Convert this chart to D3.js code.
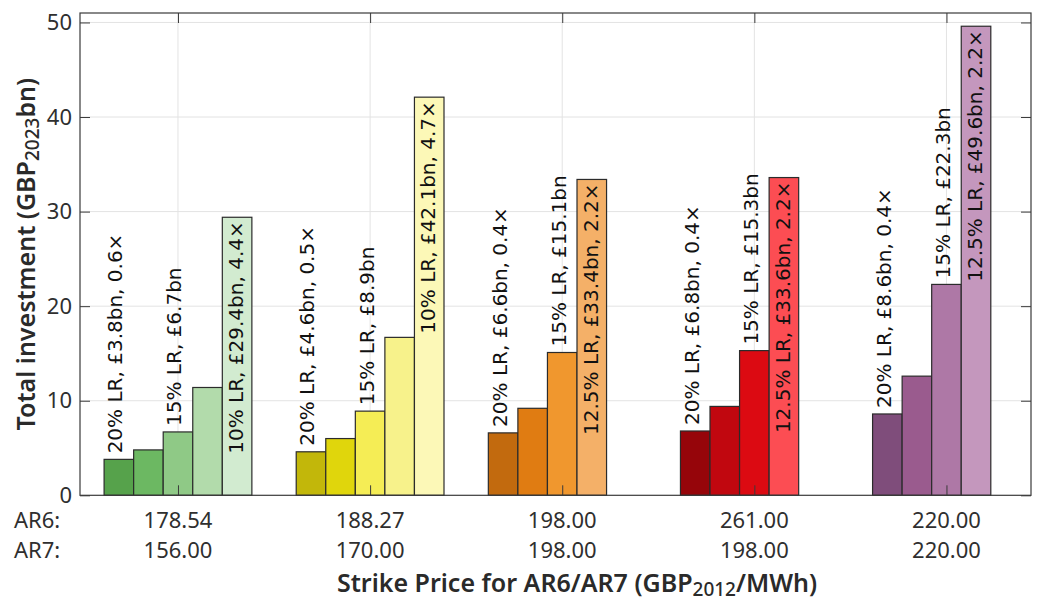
<!DOCTYPE html>
<html>
<head>
<meta charset="utf-8">
<script src="https://cdn.jsdelivr.net/npm/d3@7"></script>
<style>
  html, body { margin: 0; padding: 0; background: #fff; }
  svg { display: block; }
</style>
</head>
<body>
<svg id="chart" width="1038" height="603"></svg>
<script>
// Strike price per group (AR6 row, AR7 row)
const ar6Prices = ["178.54", "188.27", "198.00", "261.00", "220.00"];
const ar7Prices = ["156.00", "170.00", "198.00", "198.00", "220.00"];

// Total investment (GBP2023 bn) per load-reduction level, one array per group
const greenValues  = [3.8, 4.8, 6.7, 11.4, 29.4];
const yellowValues = [4.6, 6.0, 8.9, 16.7, 42.1];
const orangeValues = [6.6, 9.2, 15.1, 33.4];
const redValues    = [6.8, 9.4, 15.3, 33.6];
const purpleValues = [8.6, 12.6, 22.3, 49.6];

// Bar fill colours per group
const greenColors  = ["#56a24b", "#6cb862", "#8fc986", "#b2dbab", "#d2ebd0"];
const yellowColors = ["#c2b70a", "#e0d60c", "#f5ed55", "#f7f28b", "#fcf8b7"];
const orangeColors = ["#c26a0e", "#e07c12", "#f0972e", "#f4b068"];
const redColors    = ["#96050a", "#c1070f", "#dc0a12", "#fc4d53"];
const purpleColors = ["#7f4d7b", "#9a5b8e", "#ae78a6", "#c497bd"];

// Annotation data
const firstLR  = ["20%", "20%", "20%", "20%", "20%"];
const firstMult = [0.6, 0.5, 0.4, 0.4, 0.4];
const midLR    = ["15%", "15%", "15%", "15%", "15%"];
const lastLR   = ["10%", "10%", "12.5%", "12.5%", "12.5%"];
const lastMult = [4.4, 4.7, 2.2, 2.2, 2.2];

const yTicks = [0, 10, 20, 30, 40, 50];

const groupValues = [greenValues, yellowValues, orangeValues, redValues, purpleValues];
const groupColors = [greenColors, yellowColors, orangeColors, redColors, purpleColors];
const slots = 5;

const svg = d3.select("#chart");
const frame = { left: 80, right: 1031, top: 13, bottom: 495.3 };

const x = d3.scaleLinear().domain([0.49, 5.44]).range([frame.left, frame.right]);
const y = d3.scaleLinear().domain([0, 51]).range([frame.bottom, frame.top]);

const groupWidth = slots / (slots + 1.5);
const slotW = groupWidth / slots;

const bars = [];
groupValues.forEach((vals, g) => {
  vals.forEach((v, i) => {
    const x0 = (g + 1) - groupWidth / 2 + i * slotW;
    bars.push({ g, i, v, x0, x1: x0 + slotW, color: groupColors[g][i] });
  });
});

const fmt = d3.format(".1f");

// Grid
const grid = svg.append("g");
grid.selectAll("line.h").data(yTicks.filter(t => t > 0)).join("line")
  .attr("x1", frame.left).attr("x2", frame.right)
  .attr("y1", d => y(d)).attr("y2", d => y(d))
  .attr("stroke", "#e3e3e3").attr("stroke-width", 1);
grid.selectAll("line.v").data(d3.range(1, 6)).join("line")
  .attr("x1", d => x(d)).attr("x2", d => x(d))
  .attr("y1", frame.top).attr("y2", frame.bottom)
  .attr("stroke", "#e3e3e3").attr("stroke-width", 1);

// Bars
svg.append("g").selectAll("rect").data(bars).join("rect")
  .attr("x", d => x(d.x0))
  .attr("width", d => x(d.x1) - x(d.x0))
  .attr("y", d => y(d.v))
  .attr("height", d => y(0) - y(d.v))
  .attr("fill", d => d.color)
  .attr("stroke", "#2b2b2b")
  .attr("stroke-width", 1.2);

// Bar annotations
const labels = [];
groupValues.forEach((vals, g) => {
  const b0 = bars.find(b => b.g === g && b.i === 0);
  const b2 = bars.find(b => b.g === g && b.i === 2);
  const bl = bars.find(b => b.g === g && b.i === vals.length - 1);
  labels.push({ b: b0, inside: false,
    text: `${firstLR[g]} LR, £${fmt(b0.v)}bn, ${firstMult[g]}×` });
  labels.push({ b: b2, inside: false,
    text: `${midLR[g]} LR, £${fmt(b2.v)}bn` });
  labels.push({ b: bl, inside: true,
    text: `${lastLR[g]} LR, £${fmt(bl.v)}bn, ${lastMult[g]}×` });
});

svg.append("g").selectAll("text").data(labels).join("text")
  .attr("transform", d => {
    const cx = (x(d.b.x0) + x(d.b.x1)) / 2 + (d.inside ? -1 : -3.5);
    const cy = d.inside ? y(d.b.v) + 4 : y(d.b.v) - 6;
    return `translate(${cx},${cy}) rotate(-90)`;
  })
  .attr("dy", "0.35em")
  .attr("text-anchor", d => d.inside ? "end" : "start")
  .attr("font-family", "'DejaVu Sans', sans-serif")
  .attr("font-size", 20)
  .attr("fill", "#111")
  .text(d => d.text);

// Axes (drawn over the bars)
const axisColor = "#3a3a3a";
const styleAxis = g => {
  g.select(".domain").remove();
  g.selectAll(".tick line").attr("stroke", axisColor).attr("stroke-width", 1);
  g.selectAll(".tick text")
    .attr("font-family", "'Noto Sans', sans-serif")
    .attr("font-size", 22)
    .attr("fill", "#2f2f2f");
};

svg.append("g").attr("transform", `translate(${frame.left},0)`)
  .call(d3.axisLeft(y).tickValues(yTicks).tickSize(-10).tickPadding(8))
  .call(styleAxis);
svg.append("g").attr("transform", `translate(${frame.right},0)`)
  .call(d3.axisRight(y).tickValues(yTicks).tickSize(-10).tickFormat(""))
  .call(styleAxis);
svg.append("g").attr("transform", `translate(0,${frame.bottom})`)
  .call(d3.axisBottom(x).tickValues(d3.range(1, 6)).tickSize(-10).tickFormat(""))
  .call(styleAxis);
svg.append("g").attr("transform", `translate(0,${frame.top})`)
  .call(d3.axisTop(x).tickValues(d3.range(1, 6)).tickSize(-10).tickFormat(""))
  .call(styleAxis);

// Box
svg.append("rect")
  .attr("x", frame.left).attr("y", frame.top)
  .attr("width", frame.right - frame.left).attr("height", frame.bottom - frame.top)
  .attr("fill", "none").attr("stroke", axisColor).attr("stroke-width", 1.2);

// Two-row strike price labels
const rows = [
  { name: "AR6:", vals: ar6Prices, yPos: 528 },
  { name: "AR7:", vals: ar7Prices, yPos: 558 }
];
const tickFont = { family: "'Noto Sans', sans-serif", size: 22, color: "#2f2f2f" };
rows.forEach(r => {
  svg.append("text")
    .attr("x", 14).attr("y", r.yPos)
    .attr("font-family", tickFont.family).attr("font-size", tickFont.size)
    .attr("fill", tickFont.color)
    .text(r.name);
  svg.append("g").selectAll("text").data(r.vals).join("text")
    .attr("x", (d, i) => x(i + 1))
    .attr("y", r.yPos)
    .attr("text-anchor", "middle")
    .attr("font-family", tickFont.family).attr("font-size", tickFont.size)
    .attr("fill", tickFont.color)
    .text(d => d);
});

// Axis titles
const yTitle = svg.append("text")
  .attr("transform", `translate(35,${(frame.top + frame.bottom) / 2}) rotate(-90)`)
  .attr("text-anchor", "middle")
  .attr("font-family", "'Noto Sans', sans-serif")
  .attr("font-size", 25)
  .attr("font-weight", 600)
  .attr("fill", "#2a2a2a");
yTitle.append("tspan").text("Total investment (GBP");
yTitle.append("tspan").attr("font-size", 19).attr("font-weight", 500).attr("dy", 4).text("2023");
yTitle.append("tspan").attr("dy", -4).text("bn)");

const xTitle = svg.append("text")
  .attr("x", 577).attr("y", 592)
  .attr("text-anchor", "middle")
  .attr("font-family", "'Noto Sans', sans-serif")
  .attr("font-size", 25)
  .attr("font-weight", 600)
  .attr("fill", "#2a2a2a");
xTitle.append("tspan").text("Strike Price for AR6/AR7 (GBP");
xTitle.append("tspan").attr("font-size", 19).attr("font-weight", 500).attr("dy", 4).text("2012");
xTitle.append("tspan").attr("dy", -4).text("/MWh)");
</script>
</body>
</html>
